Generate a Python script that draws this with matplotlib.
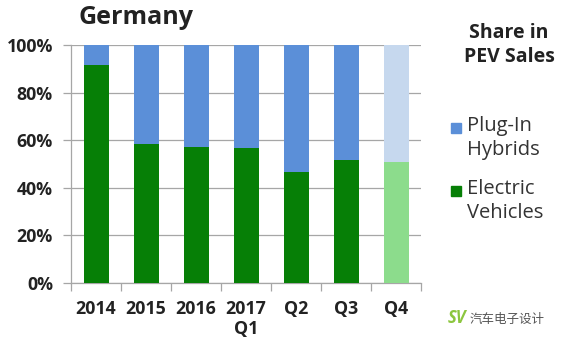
import matplotlib.pyplot as plt
from matplotlib.patches import Rectangle

plt.rcParams['font.family'] = ['Open Sans', 'Noto Sans CJK SC', 'DejaVu Sans']

# Share of plug-in electric vehicle sales in Germany
periods = ['2014', '2015', '2016', '2017\nQ1', 'Q2', 'Q3', 'Q4']
electric = [91.5, 58.5, 57.0, 56.7, 46.8, 51.7, 50.7]
plugin_hybrid = [100 - v for v in electric]
projected = [False, False, False, False, False, False, True]
yticks = [0, 20, 40, 60, 80, 100]

ev_color = '#067f06'
phev_color = '#5b8fd8'
ev_light = '#8cdc8c'
phev_light = '#c6d8ee'
grid_color = '#a6a6a6'
text_color = '#222222'

fig = plt.figure(figsize=(5.62, 3.43), dpi=100)
ax = fig.add_axes([71 / 562, 1 - 283 / 343, 350 / 562, 238 / 343])

x = range(len(periods))
ev_colors = [ev_light if p else ev_color for p in projected]
ph_colors = [phev_light if p else phev_color for p in projected]
ax.bar(x, electric, width=0.5, color=ev_colors, zorder=3)
ax.bar(x, plugin_hybrid, width=0.5, bottom=electric, color=ph_colors, zorder=3)

ax.set_xlim(-0.5, len(periods) - 0.5)
ax.set_ylim(0, 100)
ax.set_yticks(yticks)
ax.set_yticklabels([f'{t}%' for t in yticks], fontsize=12.8, fontweight='bold',
                   color=text_color)
ax.yaxis.grid(True, color=grid_color, linewidth=0.9, zorder=0)
ax.tick_params(axis='y', length=6, width=0.9, color=grid_color, pad=7)

# category labels centred, tick marks on category boundaries
ax.set_xticks(list(x))
ax.set_xticklabels(periods, fontsize=12.8, fontweight='bold', color=text_color,
                   linespacing=1.2)
ax.tick_params(axis='x', length=0, pad=12)
ax.set_xticks([i - 0.5 for i in range(len(periods) + 1)], minor=True)
ax.tick_params(axis='x', which='minor', length=6, width=0.9, color=grid_color)

for side in ('top', 'right'):
    ax.spines[side].set_visible(False)
for side in ('left', 'bottom'):
    ax.spines[side].set_color(grid_color)
    ax.spines[side].set_linewidth(0.9)

fig.text(78 / 562, 1 - 17 / 343, 'Germany', fontsize=18, fontweight='bold',
         color=text_color, ha='left', va='center')

# legend
fig.text(509 / 562, 1 - 45 / 343, 'Share in\nPEV Sales', fontsize=14,
         fontweight='bold', color=text_color, ha='center', va='center',
         linespacing=1.3)
legend_items = [('Plug-In\nHybrids', phev_color, 128), ('Electric\nVehicles', ev_color, 191)]
for label, color, ypix in legend_items:
    fig.patches.append(Rectangle((451 / 562, 1 - (ypix + 5) / 343), 10 / 562, 10 / 343,
                                 transform=fig.transFigure, color=color))
    fig.text(467 / 562, 1 - (ypix - 12) / 343, label, fontsize=14.5,
             color='#333333', ha='left', va='top', linespacing=1.3)

# publisher mark
fig.text(448 / 562, 1 - 318 / 343, 'SV', fontsize=12, fontweight='bold',
         color='#8cc63f', ha='left', va='center', style='italic')
fig.text(470 / 562, 1 - 319 / 343, '汽车电子设计', fontsize=9,
         color='#555555', ha='left', va='center')

fig.savefig('out.png', dpi=100)
